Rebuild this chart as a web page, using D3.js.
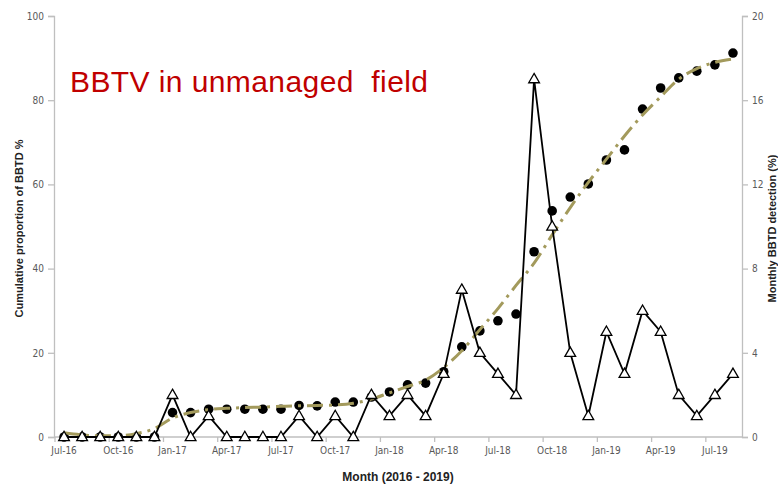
<!DOCTYPE html>
<html>
<head>
<meta charset="utf-8">
<script src="https://cdn.jsdelivr.net/npm/d3@7/dist/d3.min.js"></script>
<style>
  html, body { margin: 0; padding: 0; background: #fff; }
  svg { display: block; }
</style>
</head>
<body>
<svg id="chart" width="778" height="484"></svg>
<script>
// ---- Data ----
const months = ["Jul-16","Aug-16","Sep-16","Oct-16","Nov-16","Dec-16",
  "Jan-17","Feb-17","Mar-17","Apr-17","May-17","Jun-17",
  "Jul-17","Aug-17","Sep-17","Oct-17","Nov-17","Dec-17",
  "Jan-18","Feb-18","Mar-18","Apr-18","May-18","Jun-18",
  "Jul-18","Aug-18","Sep-18","Oct-18","Nov-18","Dec-18",
  "Jan-19","Feb-19","Mar-19","Apr-19","May-19","Jun-19",
  "Jul-19","Aug-19"];
// Cumulative proportion of BBTD % (left axis, filled circles)
const cumulative = [0,0,0,0,0,0,
  5.8,5.8,6.6,6.6,6.6,6.6,
  6.6,7.5,7.4,8.3,8.3,9.5,
  10.7,12.4,12.8,15.5,21.4,25.2,
  27.6,29.2,44,53.7,57,60.1,
  65.8,68.2,77.9,82.9,85.3,86.9,
  88.4,91.2];
// Monthly BBTD detection % (right axis, open triangles)
const monthly = [0,0,0,0,0,0,
  2,0,1,0,0,0,
  0,1,0,1,0,2,
  1,2,1,3,7,4,
  3,2,17,10,4,1,
  5,3,6,5,2,1,
  2,3];
// Fitted trend of cumulative proportion (left axis, dash-dot line)
const fitted = [1.0,0.5,0.3,0.3,0.8,2.0,
  4.5,5.8,6.5,6.8,7.0,7.1,
  7.3,7.4,7.5,7.6,8.0,9.0,
  10.5,12.0,13.5,16.5,20.5,25.5,
  30.5,36.0,41.3,48.0,54.5,60.5,
  66.0,71.5,76.5,80.8,85.0,87.5,
  89.0,89.8];
const leftTicks = [0,20,40,60,80,100];
const rightTicks = [0,4,8,12,16,20];

// ---- Layout ----
const svg = d3.select("#chart");
const X0 = 54, X1 = 742, Y0 = 437, Y1 = 16;
const axisColor = "#bfbfbf";
const tickText = "#595959";
const font = "'Liberation Sans Narrow','DejaVu Sans Condensed','Liberation Sans',Arial,sans-serif";

const x = d3.scaleBand().domain(months).range([X0 + 1, X1]).padding(0);
const cx = d => x(d) + x.bandwidth() / 2;
const yL = d3.scaleLinear().domain([0, 100]).range([Y0, Y1]);
const yR = d3.scaleLinear().domain([0, 20]).range([Y0, Y1]);

// Left axis
const gL = svg.append("g").attr("transform", `translate(${X0},0)`)
  .call(d3.axisLeft(yL).tickValues(leftTicks).tickSize(6).tickPadding(4));
// Right axis
const gR = svg.append("g").attr("transform", `translate(${X1},0)`)
  .call(d3.axisRight(yR).tickValues(rightTicks).tickSize(6).tickPadding(4));
[gL, gR].forEach(g => {
  g.select(".domain").attr("stroke", axisColor).attr("stroke-width", 1.3);
  g.selectAll(".tick line").attr("stroke", axisColor).attr("stroke-width", 1.3);
  g.selectAll(".tick text").attr("fill", tickText).style("font-family", font).style("font-size", "10px");
});

// Bottom axis (category axis, ticks between categories every 3 months)
const labelMonths = months.filter((d, i) => i % 3 === 0);
const gB = svg.append("g").attr("transform", `translate(0,${Y0})`)
  .call(d3.axisBottom(x).tickValues(labelMonths).tickSize(0).tickPadding(10));
gB.select(".domain").remove();
gB.selectAll(".tick text").attr("fill", tickText).style("font-family", font).style("font-size", "10px");
svg.append("line").attr("x1", X0).attr("x2", X1).attr("y1", Y0).attr("y2", Y0)
  .attr("stroke", axisColor).attr("stroke-width", 1.3);
svg.append("g").selectAll("line").data(labelMonths).join("line")
  .attr("x1", d => x(d)).attr("x2", d => x(d))
  .attr("y1", Y0).attr("y2", Y0 + 5)
  .attr("stroke", axisColor).attr("stroke-width", 1.3);

// Axis titles
svg.append("text")
  .attr("transform", `translate(23,${(Y0 + Y1) / 2 + 2}) rotate(-90)`)
  .attr("text-anchor", "middle")
  .style("font-family", "'Liberation Sans',Arial,sans-serif")
  .style("font-size", "11px").style("font-weight", "bold").attr("fill", "#222")
  .text("Cumulative proportion of BBTD %");
svg.append("text")
  .attr("transform", `translate(776,${(Y0 + Y1) / 2 + 2}) rotate(-90)`)
  .attr("text-anchor", "middle")
  .style("font-family", "'Liberation Sans',Arial,sans-serif")
  .style("font-size", "11px").style("font-weight", "bold").attr("fill", "#222")
  .text("Monthly BBTD detection (%)");
svg.append("text")
  .attr("x", 398).attr("y", 481)
  .attr("text-anchor", "middle")
  .style("font-family", "'Liberation Sans',Arial,sans-serif")
  .style("font-size", "12px").style("font-weight", "bold").attr("fill", "#222")
  .text("Month (2016 - 2019)");

// Title
svg.append("text")
  .attr("x", 70).attr("y", 92)
  .style("font-family", "'Liberation Sans',Arial,sans-serif")
  .style("font-size", "30px").attr("fill", "#c00000")
  .attr("xml:space", "preserve")
  .style("white-space", "pre")
  .attr("textLength", 358)
  .attr("lengthAdjust", "spacing")
  .text("BBTV in unmanaged  field");

// Cumulative circles
svg.append("g").selectAll("circle").data(months).join("circle")
  .attr("cx", d => cx(d))
  .attr("cy", (d, i) => yL(cumulative[i]))
  .attr("r", 4.8)
  .attr("fill", "#000");

// Fitted curve
const fitLine = d3.line()
  .x((d, i) => cx(months[i]))
  .y(d => yL(d))
  .curve(d3.curveMonotoneX);
svg.append("path").datum(fitted)
  .attr("d", fitLine)
  .attr("fill", "none")
  .attr("stroke", "#a39a5c")
  .attr("stroke-width", 3)
  .attr("stroke-dasharray", "16,6,3,6");

// Monthly line + triangles
const monthLine = d3.line()
  .x((d, i) => cx(months[i]))
  .y(d => yR(d));
svg.append("path").datum(monthly)
  .attr("d", monthLine)
  .attr("fill", "none")
  .attr("stroke", "#000")
  .attr("stroke-width", 1.8);
const tri = d3.symbol().type(d3.symbolTriangle).size(50);
svg.append("g").selectAll("path").data(months).join("path")
  .attr("d", tri)
  .attr("transform", (d, i) => `translate(${cx(d)},${yR(monthly[i]) + 0.5})`)
  .attr("fill", "#fff")
  .attr("stroke", "#000")
  .attr("stroke-width", 1.3);
</script>
</body>
</html>
